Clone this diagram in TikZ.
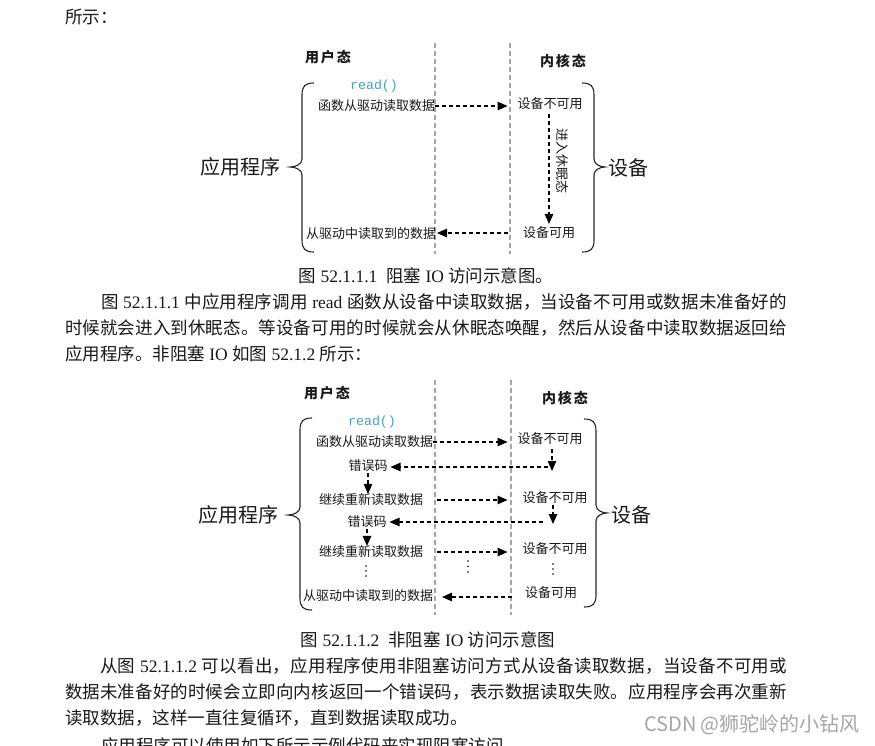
\documentclass[tikz,border=0pt]{standalone}
\usepackage{fontspec}
\setmainfont{Liberation Serif}
\newfontfamily\cjk{Noto Sans CJK SC}
\newfontfamily\monof{Liberation Mono}
\usetikzlibrary{arrows.meta}
\definecolor{readc}{RGB}{72,160,200}
% stretchable glue between CJK characters (for justified lines)
\chardef\cjkcls=7
\newcount\cjkcnt
\cjkcnt="4E00
\loop
  \XeTeXcharclass\cjkcnt=\cjkcls
  \advance\cjkcnt by 1
\ifnum\cjkcnt<"A000 \repeat
\XeTeXcharclass"3002=\cjkcls
\XeTeXcharclass"FF0C=\cjkcls
\XeTeXcharclass"FF1A=\cjkcls
\XeTeXinterchartoks\cjkcls\cjkcls={\hskip0pt plus 1pt\relax}
\XeTeXinterchartokenstate=1
\newcommand\bodyfs{\fontsize{17.5}{20}\selectfont}
\tikzset{
  txt/.style={inner sep=0pt, outer sep=0pt, text=black!90},
  sm/.style={txt, font=\cjk\fontsize{13}{15}\selectfont},
  big/.style={txt, font=\cjk\fontsize{20}{22}\selectfont},
  tb/.style={txt, font=\cjk\bfseries\fontsize{14}{16}\selectfont},
  rd/.style={txt, font=\monof\fontsize{13.3}{15}\selectfont, text=readc},
  body/.style={txt, font=\bodyfs, anchor=west},
  captxt/.style={txt, font=\bodyfs},
  wm/.style={txt, font=\cjk\fontsize{20}{22}\selectfont, text=black!35},
  arr/.style={draw=black, line width=1.1pt, dash pattern=on 4pt off 3pt,
    -{Triangle[length=10pt,width=8.5pt]}},
  sepl/.style={draw=black!35, line width=1.2pt, dash pattern=on 5pt off 3pt},
  brc/.style={draw=black!85, line width=1.1pt},
}
\newcommand\bracelft[4]{% X, top, mid, bottom
  \draw[brc] ({#1+12},#2) .. controls ({#1+3},#2) and (#1,{#2+3}) .. (#1,{#2+12})
    -- (#1,{#3-8}) .. controls (#1,{#3-3}) and ({#1-6},#3) .. ({#1-12},#3)
    .. controls ({#1-6},#3) and (#1,{#3+3}) .. (#1,{#3+8})
    -- (#1,{#4-12}) .. controls (#1,{#4-3}) and ({#1+3},#4) .. ({#1+12},#4);}
\newcommand\bracergt[4]{% X, top, mid, bottom
  \draw[brc] ({#1-12},#2) .. controls ({#1-3},#2) and (#1,{#2+3}) .. (#1,{#2+12})
    -- (#1,{#3-8}) .. controls (#1,{#3-3}) and ({#1+6},#3) .. ({#1+11},#3)
    .. controls ({#1+6},#3) and (#1,{#3+3}) .. (#1,{#3+8})
    -- (#1,{#4-12}) .. controls (#1,{#4-3}) and ({#1-3},#4) .. ({#1-12},#4);}
\begin{document}
\begin{tikzpicture}[x=1pt,y=-1pt]
\useasboundingbox (0,0) rectangle (875,745);
\clip (0,0) rectangle (875,745);
\fill[white] (0,0) rectangle (875,745);

% ---------- text above ----------
\node[body] (t0) at (65,17) {\cjk 所示：};

% ---------- diagram 1 ----------
\node[tb] (u1) at (328,57) {用\kern2pt 户\kern2pt 态};
\node[tb] (k1) at (563,61) {内\kern2pt 核\kern2pt 态};
\draw[sepl] (435,43) -- (435,254);
\draw[sepl] (510,43) -- (510,254);
\node[rd] (rd1) at (374,86) {read()};
\node[big] (app1) at (240,167) {应用程序};
\node[big] (dev1) at (628,168) {设备};
\bracelft{302}{83}{167}{252}
\bracergt{594}{83}{167}{252}
\node[sm,anchor=east] (a1) at (435,106) {函数从驱动读取数据};
\node[sm] (b1) at (550,104) {设备不可用};
\node[sm] (c1) at (549,233) {设备可用};
\node[sm,anchor=east] (d1) at (436,234) {从驱动中读取到的数据};
\node[sm,rotate=-90] (z1) at (562,161) {进入休眠态};
\draw[arr,shorten >=10pt] (a1.east) -- (a1.east -| b1.west);
\draw[arr,shorten <=4pt,shorten >=3pt] (b1.south -| c1) -- (c1.north);
\draw[arr,shorten <=15pt,shorten >=1pt] (c1.west) -- (c1.west -| d1.east);

% ---------- caption 1 and paragraph ----------
\node[captxt] (cap1) at (426,276) {{\cjk 图} 52.1.1.1\ \ {\cjk 阻塞} IO {\cjk 访问示意图。}};
\node[body] (p11) at (101,302) {\makebox[686pt][s]{{\cjk 图} 52.1.1.1 {\cjk 中应用程序调用} read {\cjk 函数从设备中读取数据，当设备不可用或数据未准备好的}}};
\node[body] (p12) at (65,328) {\makebox[722pt][s]{\cjk 时候就会进入到休眠态。等设备可用的时候就会从休眠态唤醒，然后从设备中读取数据返回给}};
\node[body] (p13) at (65,354) {{\cjk 应用程序。非阻塞} IO {\cjk 如图} 52.1.2 {\cjk 所示：}};

% ---------- diagram 2 ----------
\node[tb] (u2) at (327,393) {用\kern2pt 户\kern2pt 态};
\node[tb] (k2) at (565,398) {内\kern2pt 核\kern2pt 态};
\draw[sepl] (435,380) -- (435,615);
\draw[sepl] (511,380) -- (511,615);
\node[rd] (rd2) at (372,422) {read()};
\node[big] (app2) at (238,515) {应用程序};
\node[big] (dev2) at (631,515) {设备};
\bracelft{300}{418}{515}{610}
\bracergt{596}{419}{513}{607}
\node[sm,anchor=east] (a2) at (433,442) {函数从驱动读取数据};
\node[sm] (b2) at (550,439) {设备不可用};
\node[sm] (e2) at (368,466) {错误码};
\node[sm] (f2) at (371,500) {继续重新读取数据};
\node[sm] (g2) at (555,498) {设备不可用};
\node[sm] (h2) at (367,522) {错误码};
\node[sm] (i2) at (371,552) {继续重新读取数据};
\node[sm] (j2) at (555,549) {设备不可用};
\node[sm] (l2) at (551,593) {设备可用};
\node[sm,anchor=east] (m2) at (433,596) {从驱动中读取到的数据};
\coordinate (q1) at (552,471);
\coordinate (r1) at (548,467);
\coordinate (q2) at (553,524);
\coordinate (r2) at (543,522);
\coordinate (s1) at (512,597);
\draw[arr,shorten >=10pt] (a2.east) -- (a2.east -| b2.west);
\draw[arr,shorten <=4pt] (b2.south -| q1) -- (q1);
\draw[arr,shorten >=3pt] (r1) -- (r1 -| e2.east);
\draw[arr,shorten <=1pt,shorten >=0pt] (e2.south) -- (e2.south |- f2.north);
\draw[arr,shorten <=14pt,shorten >=15pt] (f2.east) -- (f2.east -| g2.west);
\draw[arr,shorten <=1pt] (g2.south -| q2) -- (q2);
\draw[arr,shorten >=3pt] (r2) -- (r2 -| h2.east);
\draw[arr,shorten <=1pt,shorten >=0pt] (h2.south) -- (h2.south |- i2.north);
\draw[arr,shorten <=14pt,shorten >=15pt] (i2.east) -- (i2.east -| j2.west);
\draw[arr,shorten >=9pt] (s1) -- (s1 -| m2.east);
\foreach \yy in {566,571,576} \fill (366,\yy) circle (0.9);
\foreach \yy in {561,566.5,572} \fill (468,\yy) circle (0.9);
\foreach \yy in {564,569,574} \fill (553,\yy) circle (0.9);

% ---------- caption 2 and paragraph ----------
\node[captxt] (cap2) at (428,640) {{\cjk 图} 52.1.1.2\ \ {\cjk 非阻塞} IO {\cjk 访问示意图}};
\node[body] (p21) at (100,666) {\makebox[687pt][s]{{\cjk 从图} 52.1.1.2 {\cjk 可以看出，应用程序使用非阻塞访问方式从设备读取数据，当设备不可用或}}};
\node[body] (p22) at (65,692) {\makebox[722pt][s]{\cjk 数据未准备好的时候会立即向内核返回一个错误码，表示数据读取失败。应用程序会再次重新}};
\node[body] (p23) at (65,718) {\cjk 读取数据，这样一直往复循环，直到数据读取成功。};
\node[body] (p24) at (101,746) {\cjk 应用程序可以使用如下所示示例代码来实现阻塞访问。};
\node[wm] (wm) at (752,725) {CSDN @狮驼岭的小钻风};
\end{tikzpicture}
\end{document}
